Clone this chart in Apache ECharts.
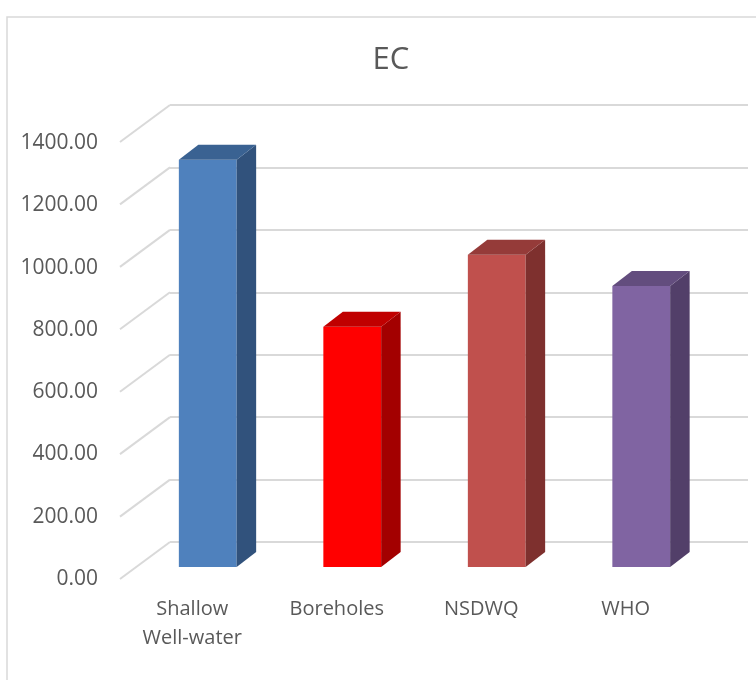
<!DOCTYPE html>
<html>
<head>
<meta charset="utf-8">
<title>EC</title>
<script src="https://cdn.jsdelivr.net/npm/echarts@6/dist/echarts.min.js"></script>
<style>
  html, body { margin: 0; padding: 0; background: #fff; }
  #chart { width: 756px; height: 680px; }
</style>
</head>
<body>
<div id="chart"></div>
<script>
// data
var categories = ['Shallow\nWell-water', 'Boreholes', 'NSDWQ', 'WHO'];
var ecValues = [1305, 770, 1000, 900];
var yTicks = [0, 200, 400, 600, 800, 1000, 1200, 1400];

// face colours: front, side, top
var frontColors = ['#4F81BD', '#FF0000', '#C0504D', '#8064A2'];
var sideColors = ['#31527C', '#A30000', '#7E302E', '#523F69'];
var topColors = ['#3A6292', '#C00000', '#953B39', '#634D7E'];

var textColor = '#595959';
var gridColor = '#D9D9D9';
var font = '"Open Sans", "Noto Sans", sans-serif';

// 3d look offsets (pixels)
var wallDx = -50, wallDy = 37;   // back wall -> front edge
var faceDx = -34.5, faceDy = 25; // back wall -> bar front face
var depthX = 19.5, depthY = -15; // bar depth

var myChart = echarts.init(document.getElementById('chart'));

function renderBar(params, api) {
  var i = api.value(0);
  var top = api.coord([i, api.value(1)]);
  var base = api.coord([i, 0]);
  var w = api.size([1, 0])[0] * 0.4;
  var xl = top[0] + faceDx - w / 2;
  var xr = xl + w;
  var yt = top[1] + faceDy;
  var yb = base[1] + faceDy;
  return {
    type: 'group',
    children: [
      {
        type: 'rect',
        shape: { x: xl, y: yt, width: w, height: yb - yt },
        style: { fill: frontColors[i] }
      },
      {
        type: 'polygon',
        shape: { points: [[xr, yt], [xr + depthX, yt + depthY], [xr + depthX, yb + depthY], [xr, yb]] },
        style: { fill: sideColors[i] }
      },
      {
        type: 'polygon',
        shape: { points: [[xl, yt], [xl + depthX, yt + depthY], [xr + depthX, yt + depthY], [xr, yt]] },
        style: { fill: topColors[i] }
      }
    ]
  };
}

function renderWallLine(params, api) {
  var p = api.coord([0, api.value(0)]);
  var x0 = params.coordSys.x;
  return {
    type: 'line',
    shape: { x1: x0, y1: p[1], x2: x0 + wallDx, y2: p[1] + wallDy },
    style: { stroke: gridColor, lineWidth: 2 }
  };
}

var option = {
  backgroundColor: '#fff',
  animation: false,
  title: {
    text: 'EC',
    left: 386,
    top: 40,
    textAlign: 'center',
    textStyle: { color: textColor, fontSize: 31, fontWeight: 'normal', fontFamily: font }
  },
  graphic: [{
    type: 'rect',
    shape: { x: 7, y: 17, width: 800, height: 720 },
    style: { fill: 'none', stroke: gridColor, lineWidth: 1.5 },
    silent: true
  }],
  grid: [
    // back wall
    { left: 170, right: 8, top: 105, bottom: 138 },
    // front edge (labels)
    { left: 120, right: 58, top: 143, bottom: 101 }
  ],
  xAxis: [
    {
      gridIndex: 0, type: 'category', data: categories,
      axisLine: { show: false }, axisTick: { show: false }, axisLabel: { show: false }
    },
    {
      gridIndex: 1, type: 'category', data: categories,
      axisLine: { show: false }, axisTick: { show: false },
      axisLabel: {
        color: textColor, fontSize: 20, fontFamily: font,
        margin: 16, lineHeight: 29, interval: 0
      }
    }
  ],
  yAxis: [
    {
      gridIndex: 0, type: 'value', min: 0, max: 1400, interval: 200,
      axisLine: { show: false }, axisTick: { show: false }, axisLabel: { show: false },
      splitLine: { lineStyle: { color: gridColor, width: 2 } }
    },
    {
      gridIndex: 1, type: 'value', min: 0, max: 1400, interval: 200,
      axisLine: { show: false }, axisTick: { show: false }, splitLine: { show: false },
      axisLabel: {
        color: textColor, fontSize: 21, fontFamily: font, margin: 22,
        formatter: function (v) { return v.toFixed(2); }
      }
    }
  ],
  series: [
    {
      type: 'custom',
      xAxisIndex: 0, yAxisIndex: 0,
      renderItem: renderWallLine,
      data: yTicks.map(function (v) { return [v]; }),
      encode: { y: 0 },
      silent: true
    },
    {
      type: 'custom',
      name: 'EC',
      xAxisIndex: 0, yAxisIndex: 0,
      renderItem: renderBar,
      data: ecValues.map(function (v, i) { return [i, v]; }),
      encode: { x: 0, y: 1 }
    }
  ]
};

myChart.setOption(option);
</script>
</body>
</html>
